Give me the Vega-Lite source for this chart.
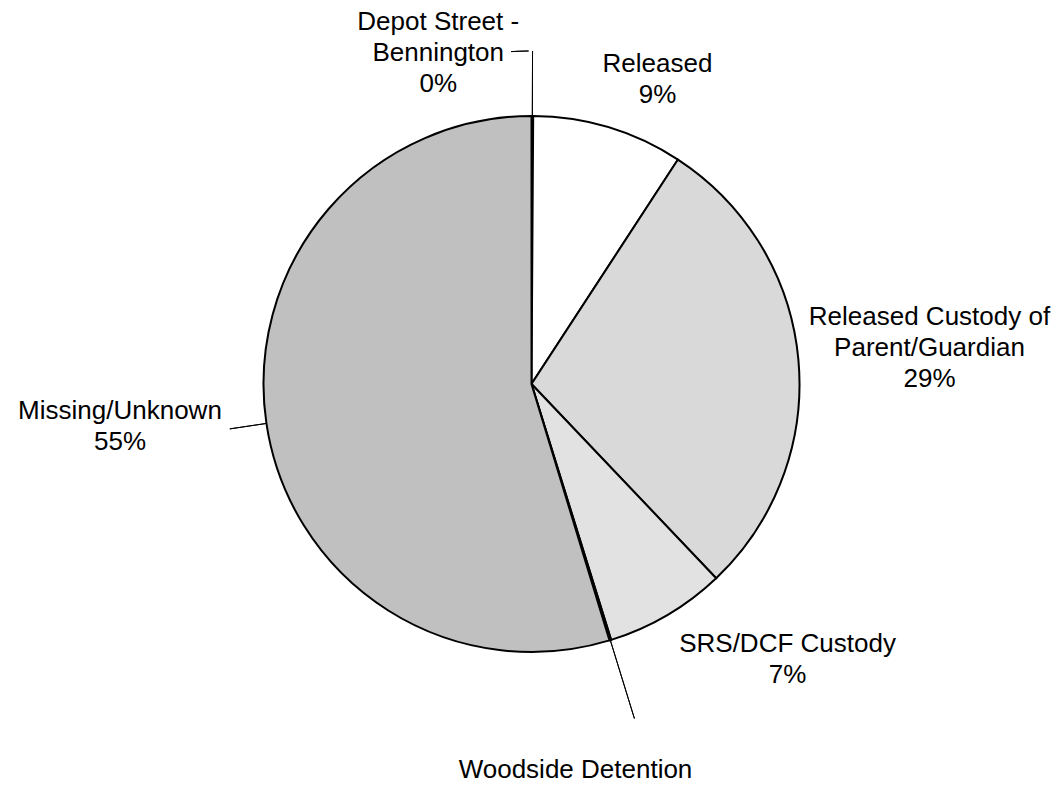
{
  "$schema": "https://vega.github.io/schema/vega-lite/v6.json",
  "width": 1063,
  "height": 768,
  "autosize": {"type": "none"},
  "padding": {"left": 0, "top": 0, "right": 0, "bottom": 19},
  "background": "white",
  "view": {"stroke": null},
  "config": {"text": {"font": "Liberation Sans", "fontSize": 26, "lineHeight": 31, "lineBreak": "\n", "align": "center", "baseline": "middle", "color": "black"}},
  "data": {
    "values": [
      {"idx": 1, "category": "Depot Street - Bennington", "value": 0.1, "label": "Depot Street -\nBennington\n0%"},
      {"idx": 2, "category": "Released", "value": 9.1, "label": "Released\n9%"},
      {"idx": 3, "category": "Released Custody of Parent/Guardian", "value": 28.7, "label": "Released Custody of\nParent/Guardian\n29%"},
      {"idx": 4, "category": "SRS/DCF Custody", "value": 7.3, "label": "SRS/DCF Custody\n7%"},
      {"idx": 5, "category": "Woodside Detention", "value": 0.1, "label": "Woodside Detention"},
      {"idx": 6, "category": "Missing/Unknown", "value": 54.7, "label": "Missing/Unknown\n55%"}
    ]
  },
  "resolve": {"scale": {"theta": "independent"}},
  "encoding": {
    "theta": {"field": "value", "type": "quantitative", "stack": true},
    "order": {"field": "idx", "type": "quantitative"}
  },
  "layer": [
    {
      "mark": {"type": "arc", "radius": 268, "stroke": "black", "strokeWidth": 2},
      "encoding": {
        "fill": {
          "field": "category",
          "type": "nominal",
          "legend": null,
          "scale": {
            "domain": ["Depot Street - Bennington", "Released", "Released Custody of Parent/Guardian", "SRS/DCF Custody", "Woodside Detention", "Missing/Unknown"],
            "range": ["#c0c0c0", "#ffffff", "#d9d9d9", "#e2e2e2", "#c0c0c0", "#c0c0c0"]
          }
        }
      }
    },
    {
      "mark": {"type": "arc", "radius": 333, "radius2": 268, "padAngle": 3.14159, "stroke": "black", "strokeWidth": 1, "fill": "white", "fillOpacity": 0},
      "encoding": {
        "strokeOpacity": {"condition": {"test": "datum.category === 'Depot Street - Bennington'", "value": 1}, "value": 0}
      }
    },
    {
      "transform": [{"stack": "value", "groupby": [], "sort": [{"field": "idx", "order": "ascending"}], "as": ["s0", "s1"]}],
      "mark": {"type": "arc", "radius": 333, "radius2": 333, "stroke": "black", "strokeWidth": 1, "fill": "white", "fillOpacity": 0},
      "encoding": {
        "theta": {"field": "s0", "type": "quantitative", "stack": null, "scale": {"domain": [0, 0.1], "range": [-0.0611, -0.0087], "zero": false}},
        "theta2": {"field": "s1"},
        "strokeOpacity": {"condition": {"test": "datum.category === 'Depot Street - Bennington'", "value": 1}, "value": 0}
      }
    },
    {
      "mark": {"type": "arc", "radius": 350, "radius2": 268, "padAngle": 3.14159, "stroke": "black", "strokeWidth": 1, "fill": "white", "fillOpacity": 0},
      "encoding": {
        "strokeOpacity": {"condition": {"test": "datum.category === 'Woodside Detention'", "value": 1}, "value": 0}
      }
    },
    {
      "transform": [{"stack": "value", "groupby": [], "sort": [{"field": "idx", "order": "ascending"}], "as": ["s0", "s1"]}],
      "mark": {"type": "arc", "radius": 305, "radius2": 268, "stroke": "black", "strokeWidth": 1, "fill": "white", "fillOpacity": 0},
      "encoding": {
        "theta": {"field": "s0", "type": "quantitative", "stack": null, "scale": {"domain": [0, 100], "range": [1.7184, 8.0016], "zero": false}},
        "theta2": {"field": "s0"},
        "strokeOpacity": {"condition": {"test": "datum.category === 'Missing/Unknown'", "value": 1}, "value": 0}
      }
    },
    {
      "mark": {"type": "text", "radius": 374, "thetaOffset": -0.2552},
      "encoding": {"text": {"condition": {"test": "datum.category === 'Depot Street - Bennington'", "field": "label", "type": "nominal"}, "value": ""}}
    },
    {
      "mark": {"type": "text", "radius": 343.9, "thetaOffset": 0.0829},
      "encoding": {"text": {"condition": {"test": "datum.category === 'Released'", "field": "label", "type": "nominal"}, "value": ""}}
    },
    {
      "mark": {"type": "text", "radius": 403.5, "thetaOffset": -0.0745},
      "encoding": {"text": {"condition": {"test": "datum.category === 'Released Custody of Parent/Guardian'", "field": "label", "type": "nominal"}, "value": ""}}
    },
    {
      "mark": {"type": "text", "radius": 364.9, "thetaOffset": -0.2468},
      "encoding": {"text": {"condition": {"test": "datum.category === 'SRS/DCF Custody'", "field": "label", "type": "nominal"}, "value": ""}}
    },
    {
      "mark": {"type": "text", "radius": 388.5, "thetaOffset": 0.185},
      "encoding": {"text": {"condition": {"test": "datum.category === 'Woodside Detention'", "field": "label", "type": "nominal"}, "value": ""}}
    },
    {
      "mark": {"type": "text", "radius": 412.4, "thetaOffset": 0.0822},
      "encoding": {"text": {"condition": {"test": "datum.category === 'Missing/Unknown'", "field": "label", "type": "nominal"}, "value": ""}}
    }
  ]
}
